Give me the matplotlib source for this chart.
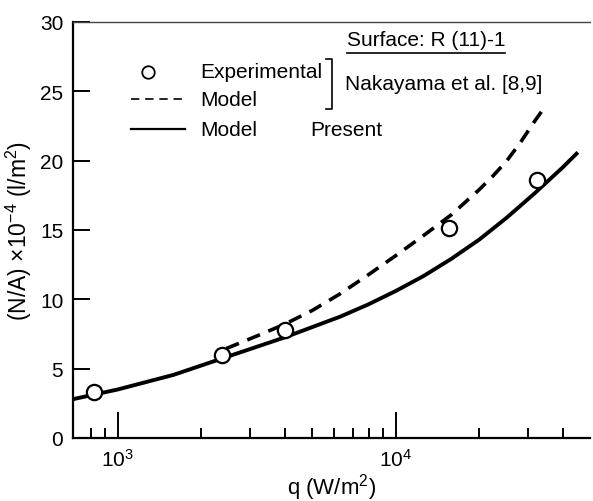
import matplotlib
matplotlib.use("Agg")
from matplotlib import pyplot as plt
from matplotlib.ticker import FixedLocator, NullFormatter

plt.rcParams['font.family'] = ['Liberation Sans', 'DejaVu Sans']

# experimental points (Nakayama et al.)
q_exp = [820, 2370, 3990, 15500, 32300]
n_exp = [3.3, 5.98, 7.79, 15.14, 18.62]

# model of Nakayama et al. (dashed)
q_naka = [2455, 3160, 3980, 5010, 6310, 7940, 10000, 12590, 15850, 19950, 22390, 25120, 28180, 31620, 33900]
n_naka = [6.45, 7.35, 8.2, 9.2, 10.4, 11.75, 13.15, 14.6, 16.1, 17.9, 18.9, 20.0, 21.35, 22.85, 23.7]

# present model (solid)
q_present = [690, 1000, 1585, 2510, 3980, 6310, 7940, 10000, 12590, 15850, 19950, 25120, 31620, 39810, 44700]
n_present = [2.8, 3.5, 4.55, 5.9, 7.25, 8.75, 9.62, 10.6, 11.68, 12.92, 14.3, 15.9, 17.65, 19.5, 20.5]

major_x = [1e3, 1e4]
minor_x = [800, 900, 2000, 3000, 4000, 5000, 6000, 7000, 8000, 9000, 20000, 30000, 40000]
y_ticks = [0, 5, 10, 15, 20, 25, 30]

fig = plt.figure(figsize=(5.93, 5.02), dpi=100)
ax = fig.add_axes([73 / 593, 1 - 439 / 502, 517 / 593, 416 / 502])

ax.plot(q_present, n_present, color="black", lw=2.8, solid_joinstyle="round")
ax.plot(q_naka, n_naka, color="black", lw=2.6, linestyle=(0, (3.8, 2.5)))
ax.plot(q_exp, n_exp, "o", color="black", mfc="white", ms=11, mew=1.6)

ax.set_xscale("log")
ax.set_xlim(690, 50000)
ax.set_ylim(0, 30)

ax.xaxis.set_major_locator(FixedLocator(major_x))
ax.xaxis.set_minor_locator(FixedLocator(minor_x))
ax.xaxis.set_minor_formatter(NullFormatter())
ax.set_xticklabels([r"$\mathregular{10^3}$", r"$\mathregular{10^4}$"])
ax.set_yticks(y_ticks)

ax.tick_params(axis="x", which="major", direction="in", length=19, width=1.4, labelsize=15, pad=7)
ax.tick_params(axis="x", which="minor", direction="in", length=7, width=1.4)
ax.tick_params(axis="y", which="major", direction="in", length=12, width=1.4, labelsize=15, pad=7)
ax.tick_params(top=False, right=False)

for s in ["left", "bottom"]:
    ax.spines[s].set_linewidth(1.6)
ax.spines["top"].set_linewidth(1.0)
ax.spines["top"].set_color("#444444")
ax.spines["right"].set_visible(False)

ax.set_xlabel(r"q (W/m$\mathregular{^2}$)", fontsize=16, labelpad=1)
ax.set_ylabel(r"(N/A) $\mathregular{\times10^{-4}}$ (l/m$\mathregular{^2}$)", fontsize=16.5, labelpad=4)


# legend drawn by hand, positions in pixels of the figure
def px(x, y):
    return ((x - 73) / 517, (439 - y) / 416)


tr = ax.transAxes
ax.plot(*px(148, 73), "o", color="black", mfc="white", ms=9, mew=1.3, transform=tr, clip_on=False)
ax.text(*px(200, 73), "Experimental", transform=tr, fontsize=15, va="center")
x0, y0 = px(131, 100)
x1, _ = px(185, 100)
ax.plot([x0, x1], [y0, y0], color="black", lw=1.2, linestyle=(0, (5, 3.5)), transform=tr, clip_on=False)
ax.text(*px(200, 100), "Model", transform=tr, fontsize=15, va="center")
x0, y0 = px(131, 130)
ax.plot([x0, x1], [y0, y0], color="black", lw=1.6, transform=tr, clip_on=False)
ax.text(*px(200, 130), "Model", transform=tr, fontsize=15, va="center")
ax.text(*px(310, 130), "Present", transform=tr, fontsize=15, va="center")

# bracket
bx0, by0 = px(326, 60)
bx1, by1 = px(332, 110)
ax.plot([bx0, bx1, bx1, bx0], [by0, by0, by1, by1], color="black", lw=1.2, transform=tr, clip_on=False)
ax.text(*px(345, 84), "Nakayama et al. [8,9]", transform=tr, fontsize=15, va="center")

ax.text(*px(347, 41), "Surface: R (11)-1", transform=tr, fontsize=15, va="center")
ux0, uy = px(347, 54)
ux1, _ = px(505, 54)
ax.plot([ux0, ux1], [uy, uy], color="black", lw=1.2, transform=tr, clip_on=False)

fig.savefig("out.png", dpi=100)
